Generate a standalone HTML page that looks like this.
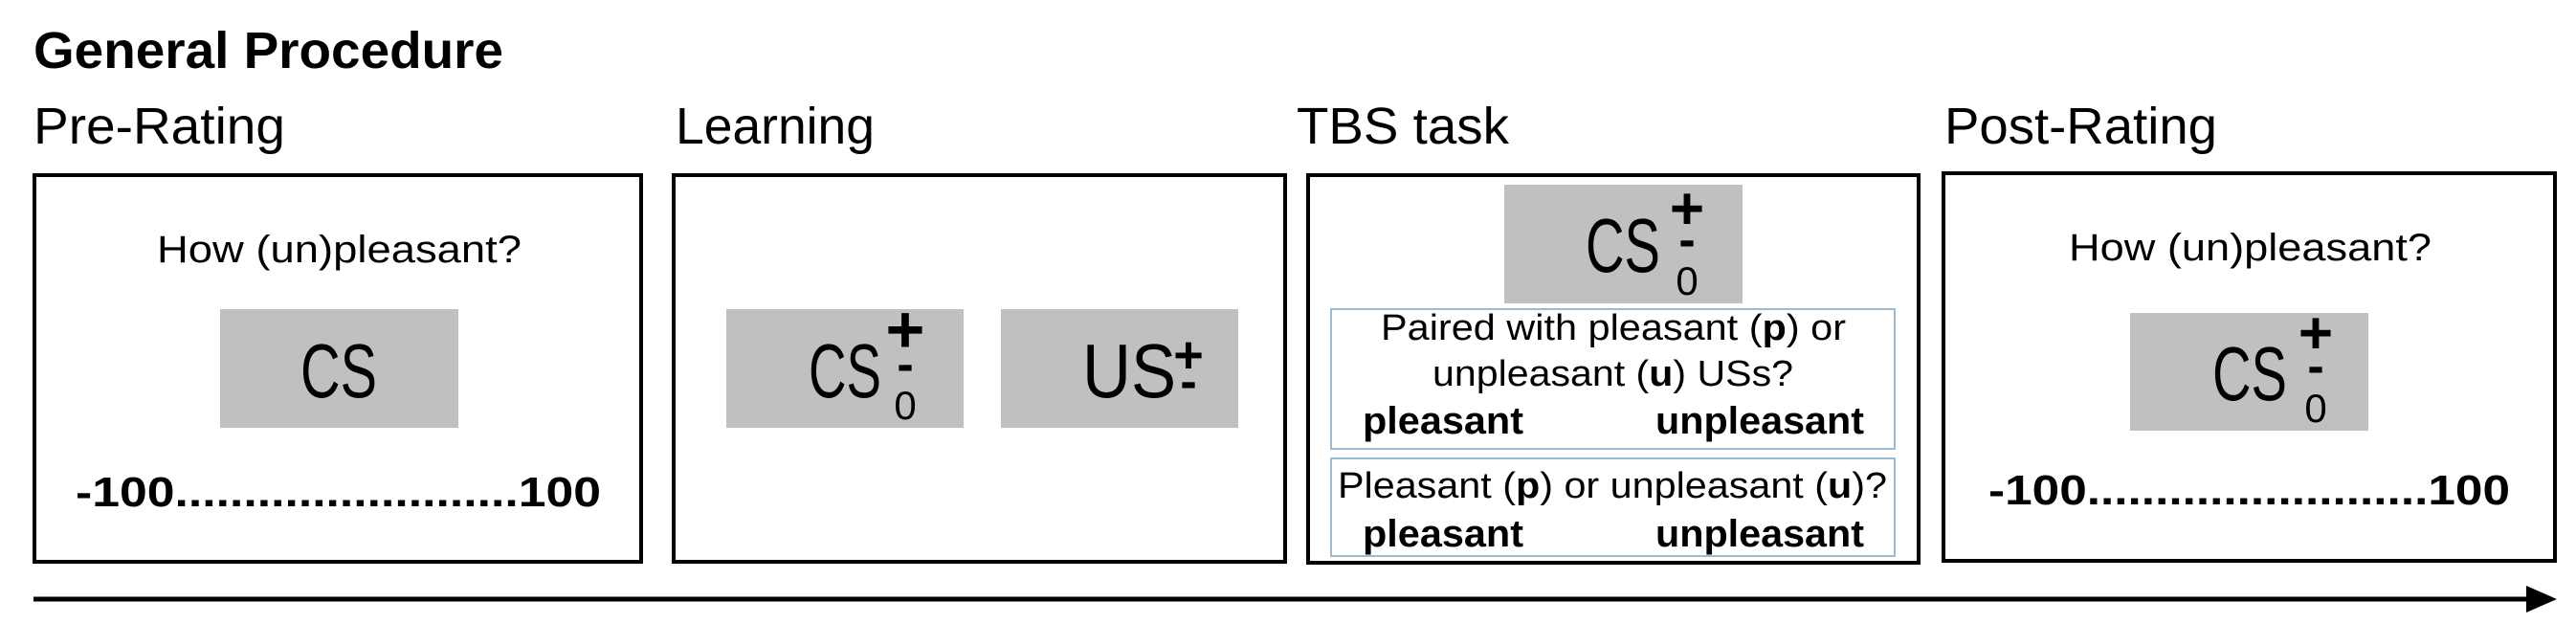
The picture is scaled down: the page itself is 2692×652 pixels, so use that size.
<!DOCTYPE html>
<html><head><meta charset="utf-8"><style>
html,body{margin:0;padding:0;background:#fff;}
svg{display:block;}
text{font-family:"Liberation Sans",Arial,sans-serif;fill:#000;}
</style></head><body>
<svg width="2692" height="652" viewBox="0 0 2692 652">
<text x="35" y="71" font-size="54" font-weight="bold" textLength="491" lengthAdjust="spacingAndGlyphs">General Procedure</text>
<text x="35" y="150" font-size="54" textLength="263" lengthAdjust="spacingAndGlyphs">Pre-Rating</text>
<text x="706" y="150" font-size="54" textLength="208" lengthAdjust="spacingAndGlyphs">Learning</text>
<text x="1355" y="150" font-size="54" textLength="222" lengthAdjust="spacingAndGlyphs">TBS task</text>
<text x="2032" y="150" font-size="54" textLength="285" lengthAdjust="spacingAndGlyphs">Post-Rating</text>

<g>
<rect x="36" y="183" width="634" height="404" fill="none" stroke="#000" stroke-width="4"/>
<text x="164" y="274" font-size="40" textLength="381" lengthAdjust="spacingAndGlyphs">How (un)pleasant?</text>
<rect x="230" y="323" width="249" height="124" fill="#c0c0c0"/>
<text x="314" y="415" font-size="80" textLength="80" lengthAdjust="spacingAndGlyphs">CS</text>
<text x="79" y="529" font-size="44" font-weight="bold" textLength="549" lengthAdjust="spacingAndGlyphs">-100.........................100</text>
</g>

<g>
<rect x="704" y="183" width="639" height="404" fill="none" stroke="#000" stroke-width="4"/>
<rect x="759" y="323" width="248" height="124" fill="#c0c0c0"/>
<text x="845" y="415" font-size="80" textLength="76" lengthAdjust="spacingAndGlyphs">CS</text>
<text x="946" y="368" font-size="70" font-weight="bold" text-anchor="middle">+</text>
<text x="946" y="398" font-size="52" font-weight="bold" text-anchor="middle">-</text>
<text x="946" y="438" font-size="42" text-anchor="middle">0</text>
<rect x="1046" y="323" width="248" height="124" fill="#c0c0c0"/>
<text x="1131" y="415" font-size="80" textLength="98" lengthAdjust="spacingAndGlyphs">US</text>
<text x="1242" y="389" font-size="54" font-weight="bold" text-anchor="middle">+</text>
<text x="1242" y="416" font-size="52" font-weight="bold" text-anchor="middle">-</text>
</g>

<g>
<rect x="1367" y="183" width="638" height="405" fill="none" stroke="#000" stroke-width="4"/>
<rect x="1572" y="193" width="249" height="124" fill="#c0c0c0"/>
<text x="1657" y="284" font-size="80" textLength="78" lengthAdjust="spacingAndGlyphs">CS</text>
<text x="1763" y="239" font-size="62" font-weight="bold" text-anchor="middle">+</text>
<text x="1763" y="268" font-size="52" font-weight="bold" text-anchor="middle">-</text>
<text x="1763" y="308" font-size="42" text-anchor="middle">0</text>
<rect x="1391" y="323" width="589" height="146" fill="none" stroke="#7fa3c0" stroke-width="1.5"/>
<text x="1443" y="355" font-size="38" textLength="486" lengthAdjust="spacingAndGlyphs">Paired with pleasant (<tspan font-weight="bold">p</tspan>) or</text>
<text x="1497" y="403" font-size="38" textLength="377" lengthAdjust="spacingAndGlyphs">unpleasant (<tspan font-weight="bold">u</tspan>) USs?</text>
<text x="1424" y="453" font-size="40" font-weight="bold" textLength="168" lengthAdjust="spacingAndGlyphs">pleasant</text>
<text x="1730" y="453" font-size="40" font-weight="bold" textLength="218" lengthAdjust="spacingAndGlyphs">unpleasant</text>
<rect x="1391" y="479" width="589" height="102" fill="none" stroke="#7fa3c0" stroke-width="1.5"/>
<text x="1398" y="520" font-size="38" textLength="574" lengthAdjust="spacingAndGlyphs">Pleasant (<tspan font-weight="bold">p</tspan>) or unpleasant (<tspan font-weight="bold">u</tspan>)?</text>
<text x="1424" y="571" font-size="40" font-weight="bold" textLength="168" lengthAdjust="spacingAndGlyphs">pleasant</text>
<text x="1730" y="571" font-size="40" font-weight="bold" textLength="218" lengthAdjust="spacingAndGlyphs">unpleasant</text>
</g>

<g>
<rect x="2031" y="181" width="639" height="405" fill="none" stroke="#000" stroke-width="4"/>
<text x="2162" y="272" font-size="40" textLength="379" lengthAdjust="spacingAndGlyphs">How (un)pleasant?</text>
<rect x="2226" y="327" width="249" height="123" fill="#c0c0c0"/>
<text x="2312" y="418" font-size="80" textLength="78" lengthAdjust="spacingAndGlyphs">CS</text>
<text x="2420" y="369" font-size="62" font-weight="bold" text-anchor="middle">+</text>
<text x="2420" y="400" font-size="52" font-weight="bold" text-anchor="middle">-</text>
<text x="2420" y="441" font-size="42" text-anchor="middle">0</text>
<text x="2078" y="527" font-size="44" font-weight="bold" textLength="545" lengthAdjust="spacingAndGlyphs">-100.........................100</text>
</g>

<g>
<line x1="35" y1="626" x2="2645" y2="626" stroke="#000" stroke-width="5"/>
<polygon points="2640,612 2672,626 2640,640" fill="#000"/>
</g>
</svg>
</body></html>
